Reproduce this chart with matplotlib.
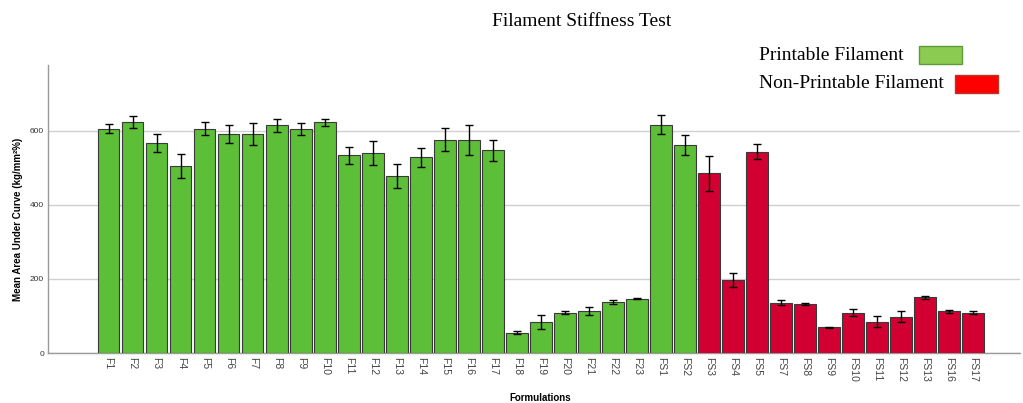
import matplotlib
matplotlib.use("Agg")
import matplotlib.pyplot as plt
from matplotlib.patches import Rectangle

categories = ["F1", "F2", "F3", "F4", "F5", "F6", "F7", "F8", "F9", "F10",
              "F11", "F12", "F13", "F14", "F15", "F16", "F17", "F18", "F19", "F20",
              "F21", "F22", "F23", "FS1", "FS2", "FS3", "FS4", "FS5", "FS7", "FS8",
              "FS9", "FS10", "FS11", "FS12", "FS13", "FS16", "FS17"]
means = [605, 623, 567, 505, 605, 591, 591, 614, 605, 622,
         533, 539, 477, 528, 575, 575, 547, 55, 84, 109,
         114, 138, 147, 616, 561, 485, 198, 543, 136, 132,
         70, 109, 85, 98, 150, 113, 109]
errors = [12, 17, 24, 33, 18, 25, 30, 17, 16, 10,
          22, 33, 32, 26, 31, 41, 28, 3.5, 18, 5,
          11, 6, 2, 25, 26, 47, 19, 20, 6.5, 2,
          1.5, 9, 16, 15, 4, 4, 4.5]
printable = ["yes"] * 25 + ["no"] * 12
yticks = [0, 200, 400, 600]

green = "#5DBE38"
red = "#D20032"

fig = plt.figure(figsize=(10.23, 4.03), dpi=100)
ax = fig.add_axes([0.047, 0.124, 0.950, 0.715])

x = list(range(len(categories)))
colors = [green if p == "yes" else red for p in printable]
ax.bar(x, means, width=0.9, color=colors, edgecolor="#3a3a3a", linewidth=0.8, zorder=3)
ax.errorbar(x, means, yerr=errors, fmt="none", ecolor="black", elinewidth=1.0,
            capsize=3, capthick=1.0, zorder=4)

ax.set_xlim(-2.52, 37.95)
ax.set_ylim(0, 777)
ax.set_yticks(yticks)
ax.set_yticklabels([str(v) for v in yticks], fontsize=6, color="#333333",
                   fontfamily="Liberation Sans")
ax.set_xticks(x)
ax.set_xticklabels(categories, rotation=-90, fontsize=7.5, color="#444444",
                   fontfamily="Liberation Sans")
ax.tick_params(axis="both", length=0, pad=3)
ax.yaxis.grid(True, color="#d0d0d0", linewidth=1.0, zorder=0)
ax.set_axisbelow(True)
for s in ["top", "right"]:
    ax.spines[s].set_visible(False)
for s in ["left", "bottom"]:
    ax.spines[s].set_color("#9a9a9a")
    ax.spines[s].set_linewidth(1.0)

fig.text(18 / 1023, 1 - 219 / 403, "Mean Area Under Curve (kg/mm²%)", fontsize=7,
         fontweight="bold", fontfamily="Liberation Sans", rotation=90,
         ha="center", va="center")
fig.text(540 / 1023, 1 - 398 / 403, "Formulations", fontsize=7, fontweight="bold",
         fontfamily="Liberation Sans", ha="center", va="center")

fig.text(582 / 1023, 1 - 22 / 403, "Filament Stiffness Test", fontsize=14,
         fontfamily="Liberation Serif", ha="center", va="center")
fig.text(759 / 1023, 1 - 55 / 403, "Printable Filament", fontsize=14,
         fontfamily="Liberation Serif", ha="left", va="center")
fig.text(759 / 1023, 1 - 84 / 403, "Non-Printable Filament", fontsize=14,
         fontfamily="Liberation Serif", ha="left", va="center")
fig.patches.append(Rectangle((919 / 1023, 1 - 64 / 403), 43 / 1023, 18 / 403,
                             transform=fig.transFigure, facecolor="#8CCB52",
                             edgecolor="#5f9a3a", linewidth=1.0))
fig.patches.append(Rectangle((955 / 1023, 1 - 93 / 403), 43 / 1023, 18 / 403,
                             transform=fig.transFigure, facecolor="#FF0000",
                             edgecolor="#b03a2a", linewidth=1.0))

fig.savefig("out.png", dpi=100)
